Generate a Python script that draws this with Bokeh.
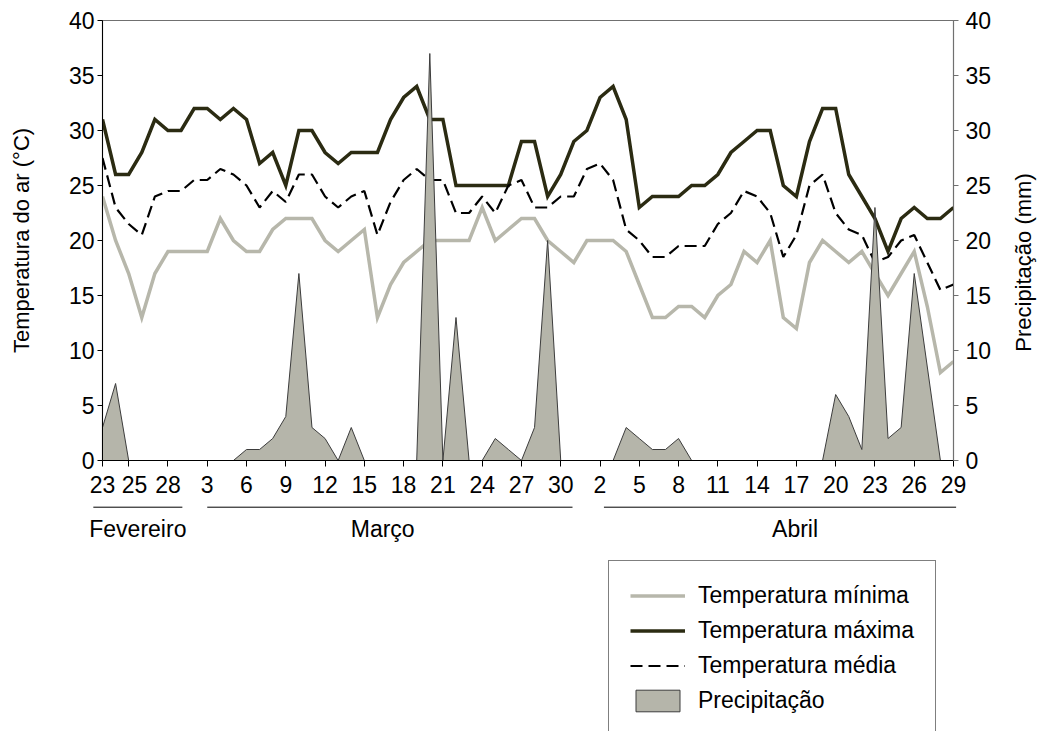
import math
from bokeh.plotting import figure
from bokeh.layouts import column, row
from bokeh.models import Range1d, LinearAxis, FixedTicker, Legend, LegendItem
from bokeh.core.properties import value
from bokeh.embed import file_html
from bokeh.resources import INLINE

# ---------------- data ----------------
day_index = list(range(66))  # 23 Feb .. 29 Apr

temp_min = [24, 20, 17, 13, 17, 19, 19, 19, 19, 22, 20, 19, 19, 21, 22, 22, 22, 20, 19, 20, 21, 13,
            16, 18, 19, 20, 20, 20, 20, 23, 20, 21, 22, 22, 20, 19, 18, 20, 20, 20, 19, 16, 13, 13,
            14, 14, 13, 15, 16, 19, 18, 20, 13, 12, 18, 20, 19, 18, 19, 17, 15, 17, 19, 14, 8, 9]

temp_max = [31, 26, 26, 28, 31, 30, 30, 32, 32, 31, 32, 31, 27, 28, 25, 30, 30, 28, 27, 28, 28, 28,
            31, 33, 34, 31, 31, 25, 25, 25, 25, 25, 29, 29, 24, 26, 29, 30, 33, 34, 31, 23, 24, 24,
            24, 25, 25, 26, 28, 29, 30, 30, 25, 24, 29, 32, 32, 26, 24, 22, 19, 22, 23, 22, 22, 23]

temp_mean = [27.5, 23, 21.5, 20.5, 24, 24.5, 24.5, 25.5, 25.5, 26.5, 26, 25, 23, 24.5, 23.5, 26, 26,
             24, 23, 24, 24.5, 20.5, 23.5, 25.5, 26.5, 25.5, 25.5, 22.5, 22.5, 24, 22.5, 25, 25.5,
             23, 23, 24, 24, 26.5, 27, 25.5, 21, 20, 18.5, 18.5, 19.5, 19.5, 19.5, 21.5, 22.5, 24.5,
             24, 22.5, 18.5, 20.5, 25, 26, 22.5, 21, 20.5, 18, 18.5, 20, 20.5, 18, 15.5, 16]

precip = [3, 7, 0, 0, 0, 0, 0, 0, 0, 0, 0, 1, 1, 2, 4, 17, 3, 2, 0, 3, 0, 0,
          0, 0, 0, 37, 0, 13, 0, 0, 2, 1, 0, 3, 20, 0, 0, 0, 0, 0, 3, 2, 1, 1,
          2, 0, 0, 0, 0, 0, 0, 0, 0, 0, 0, 0, 6, 4, 1, 23, 2, 3, 17, 8.5, 0, 0]

x_tick_positions = [0, 2, 5, 8, 11, 14, 17, 20, 23, 26, 29, 32, 35, 38, 41, 44, 47, 50, 53, 56, 59, 62, 65]
x_tick_labels = ["23", "\u200225", "28", "3", "6", "9", "12", "15", "18", "21", "24", "27", "30",
                 "2", "5", "8", "11", "14", "17", "20", "23", "26", "29"]
y_ticks = [0, 5, 10, 15, 20, 25, 30, 35, 40]

months = ["Fevereiro", "Março", "Abril"]
month_line_start = [-0.7, 8.0, 38.3]
month_line_end = [6.1, 35.9, 65.2]
month_center = [2.7, 21.4, 52.9]

series_names = ["Temperatura mínima", "Temperatura máxima", "Temperatura média", "Precipitação"]
left_title = "Temperatura do ar (°C)"
right_title = "Precipitação (mm)"

# ---------------- styling ----------------
FONT = "Liberation Sans"
FS = "23px"
FS_T = "22px"
FS_L = "23px"
C_MIN = "#b7b7ab"
C_MAX = "#2b2b12"
C_MEAN = "#000000"
C_RAIN = "#b5b5aa"
C_RAIN_LINE = "#3c3c3c"
MIN_STYLE = dict(line_color=C_MIN, line_width=3.5)
MAX_STYLE = dict(line_color=C_MAX, line_width=3.5)
MEAN_STYLE = dict(line_color=C_MEAN, line_width=2.2, line_dash="12 6")
RAIN_STYLE = dict(fill_color=C_RAIN, line_color=C_RAIN_LINE, line_width=1)

FRAME_L, FRAME_W, FRAME_H, TOP = 102, 851, 440, 20
X_START, X_END = 0, 65
PX_PER_DAY = FRAME_W / (X_END - X_START)

# ---------------- main chart ----------------
p = figure(frame_width=FRAME_W, frame_height=FRAME_H,
           min_border_left=FRAME_L, min_border_right=50, min_border_top=TOP, min_border_bottom=40,
           x_range=Range1d(X_START, X_END), y_range=Range1d(0, 40),
           output_backend="svg", toolbar_location=None)
p.title.visible = False
p.xgrid.visible = False
p.ygrid.visible = False
p.background_fill_color = "white"
p.border_fill_color = "white"
p.outline_line_color = "#707070"
p.outline_line_width = 1.2
p.extra_y_ranges = {"rain": Range1d(0, 40)}

xa = p.xaxis[0]
xa.ticker = FixedTicker(ticks=x_tick_positions)
xa.major_label_overrides = {pos: lab for pos, lab in zip(x_tick_positions, x_tick_labels)}
xa.minor_tick_line_color = None
xa.major_tick_out = 6
xa.major_tick_in = 0
xa.axis_line_color = "black"
xa.major_tick_line_color = "black"
xa.major_label_text_font = FONT
xa.major_label_text_font_size = FS
xa.major_label_text_color = "black"
xa.major_label_standoff = 5

ya = p.yaxis[0]
ya.ticker = FixedTicker(ticks=y_ticks)
ya.minor_tick_line_color = None
ya.major_tick_out = 5
ya.major_tick_in = 0
ya.axis_line_color = "black"
ya.major_tick_line_color = "black"
ya.major_label_text_font = FONT
ya.major_label_text_font_size = FS
ya.major_label_text_color = "black"
ya.major_label_standoff = 3
ya.axis_label = left_title
ya.axis_label_text_font = FONT
ya.axis_label_text_font_size = FS_T
ya.axis_label_text_font_style = "normal"
ya.axis_label_text_color = "black"
ya.axis_label_standoff = 32

ra = LinearAxis(y_range_name="rain", ticker=FixedTicker(ticks=y_ticks))
ra.minor_tick_line_color = None
ra.major_tick_out = 5
ra.major_tick_in = 0
ra.axis_line_color = "#707070"
ra.major_tick_line_color = "#707070"
ra.major_label_text_font = FONT
ra.major_label_text_font_size = FS
ra.major_label_text_color = "black"
ra.major_label_standoff = 7
p.add_layout(ra, "right")

p.line(day_index, temp_min, line_join="miter", **MIN_STYLE)
p.line(day_index, temp_max, line_join="miter", **MAX_STYLE)
p.line(day_index, temp_mean, **MEAN_STYLE)
rain_x = day_index + [day_index[-1], day_index[0]]
rain_y = precip + [0, 0]
p.patch(rain_x, rain_y, y_range_name="rain", **RAIN_STYLE)

# ---------------- right strip: rotated right-axis title ----------------
P_H = TOP + FRAME_H + 40
R_W = 1045 - (FRAME_L + FRAME_W + 50)
r = figure(frame_width=R_W, frame_height=P_H,
           min_border_left=0, min_border_right=0, min_border_top=0, min_border_bottom=0,
           x_range=Range1d(0, R_W), y_range=Range1d(0, P_H),
           x_axis_location=None, y_axis_location=None,
           output_backend="svg", toolbar_location=None)
r.title.visible = False
r.xgrid.visible = False
r.ygrid.visible = False
r.outline_line_color = None
r.border_fill_color = "white"
r.text(x=[20], y=[P_H - 242], text=[right_title], angle=math.pi / 2,
       text_font=value(FONT), text_font_size=FS_T, text_align="center",
       text_baseline="middle", text_color="black")

# ---------------- lower panel: months and legend ----------------
Q_H = 731 - P_H
q = figure(frame_width=1045, frame_height=Q_H,
           min_border_left=0, min_border_right=0, min_border_top=0, min_border_bottom=0,
           x_range=Range1d(X_START - FRAME_L / PX_PER_DAY, X_START + (1045 - FRAME_L) / PX_PER_DAY),
           y_range=Range1d(Q_H, 0),
           x_axis_location=None, y_axis_location=None,
           output_backend="svg", toolbar_location=None)
q.title.visible = False
q.xgrid.visible = False
q.ygrid.visible = False
q.outline_line_color = None
q.background_fill_color = "white"
q.border_fill_color = "white"

q.segment(x0=month_line_start, x1=month_line_end, y0=[6.7] * 3, y1=[6.7] * 3,
          line_color="black", line_width=1)
q.text(x=month_center, y=[28] * 3, text=months, text_font=value(FONT), text_font_size=FS,
       text_align="center", text_baseline="middle", text_color="black")

# off-screen stand-ins so the legend can draw its swatches
l_min = q.line([-1000, -999], [-1000, -1000], **MIN_STYLE)
l_max = q.line([-1000, -999], [-1000, -1000], **MAX_STYLE)
l_mean = q.line([-1000, -999], [-1000, -1000], **MEAN_STYLE)
l_rain = q.patch([-1000, -999, -999], [-1000, -1000, -999], **RAIN_STYLE)

legend = Legend(items=[LegendItem(label=series_names[0], renderers=[l_min]),
                       LegendItem(label=series_names[1], renderers=[l_max]),
                       LegendItem(label=series_names[2], renderers=[l_mean]),
                       LegendItem(label=series_names[3], renderers=[l_rain])],
                location=(608, -5), orientation="vertical",
                label_text_font=FONT, label_text_font_size=FS_L, label_text_color="black",
                glyph_width=55, glyph_height=27, label_height=27, label_width=200,
                label_standoff=13, spacing=8, padding=21, margin=0,
                border_line_color="black", border_line_width=1,
                background_fill_color="white", background_fill_alpha=1)
q.add_layout(legend, "center")

layout = column(row(p, r, spacing=0), q, spacing=0)
open("out.html", "w").write(file_html(layout, INLINE))
